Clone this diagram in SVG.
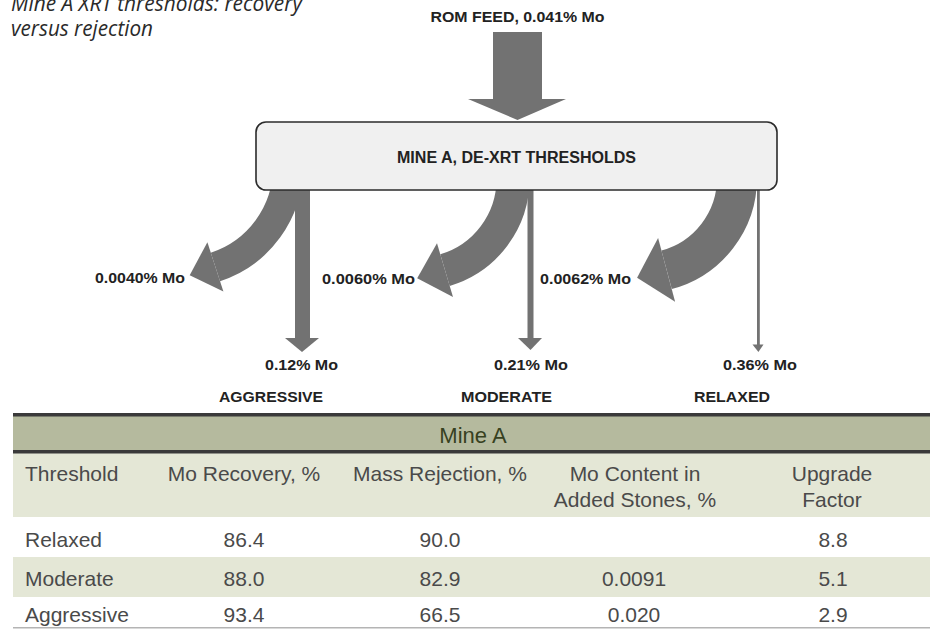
<svg xmlns="http://www.w3.org/2000/svg" width="933" height="634" viewBox="0 0 933 634">
  <defs>
    <style>
      .title { font-family: "Open Sans", "Liberation Sans", sans-serif; font-style: italic; font-size: 21px; fill: #2a2a2a; }
      .lbl { font-family: "Liberation Sans", Arial, sans-serif; font-weight: bold; font-size: 14.5px; fill: #222222; }
      .cat { font-family: "Liberation Sans", Arial, sans-serif; font-weight: bold; font-size: 15.5px; fill: #222222; }
      .arrow { fill: #727272; }
      .band { fill: none; stroke: #727272; stroke-linecap: butt; }
      .box { fill: #f0f0f0; stroke: #2b2b2b; stroke-width: 1.6; }
      .tcell { font-family: "Liberation Sans", Arial, sans-serif; font-size: 21px; fill: #4a4a4a; }
      .thead { font-family: "Liberation Sans", Arial, sans-serif; font-size: 22px; fill: #37411f; }
      .mid { text-anchor: middle; }
      .rule { fill: #3a3a3a; }
    </style>
  </defs>
  <rect width="933" height="634" fill="#ffffff"/>

  <!-- Title -->
  <g id="title">
    <text class="title" x="11" y="11" textLength="291" lengthAdjust="spacingAndGlyphs">Mine A XRT thresholds: recovery</text>
    <text class="title" x="11" y="36" textLength="142" lengthAdjust="spacingAndGlyphs">versus rejection</text>
  </g>

  <!-- Connectors -->
  <g id="connectors">
    <!-- ROM feed arrow -->
    <g id="feed-arrow">
      <rect class="arrow" x="493" y="32" width="49" height="68"/>
      <polygon class="arrow" points="468,99 566,99 517.5,120"/>
    </g>
    <!-- Aggressive rejection (curved) -->
    <g id="reject-aggressive">
      <path class="band" stroke-width="30" d="M 288 167 A 105 105 0 0 1 215.4 266.9"/>
      <polygon class="arrow" points="207.4,242.2 223.4,291.6 189.7,275.2"/>
    </g>
    <!-- Aggressive product (vertical) -->
    <g id="product-aggressive">
      <rect class="arrow" x="295" y="180" width="15" height="159"/>
      <polygon class="arrow" points="285,338 319,338 302,352"/>
    </g>
    <!-- Moderate rejection (curved) -->
    <g id="reject-moderate">
      <path class="band" stroke-width="33" d="M 513 179 A 95 95 0 0 1 445 270.1"/>
      <polygon class="arrow" points="437,243.2 453,297 417.2,278.3"/>
    </g>
    <!-- Moderate product (vertical) -->
    <g id="product-moderate">
      <rect class="arrow" x="527.5" y="180" width="6" height="159"/>
      <polygon class="arrow" points="518,338 542,338 530.5,350"/>
    </g>
    <!-- Relaxed rejection (curved) -->
    <g id="reject-relaxed">
      <path class="band" stroke-width="40" d="M 737 178 A 95 95 0 0 1 666.6 269.8"/>
      <polygon class="arrow" points="658.1,237.9 675.1,301.7 637.1,277.7"/>
    </g>
    <!-- Relaxed product (vertical) -->
    <g id="product-relaxed">
      <rect class="arrow" x="757" y="180" width="2.8" height="166"/>
      <polygon class="arrow" points="752.5,344.5 763.5,344.5 758.4,352"/>
    </g>
  </g>

  <!-- Nodes -->
  <g id="feed-label">
    <text class="lbl mid" x="517.5" y="22" style="font-size:15px" textLength="174" lengthAdjust="spacingAndGlyphs">ROM FEED, 0.041% Mo</text>
  </g>

  <g id="node-thresholds">
    <rect class="box" x="256" y="122" width="521" height="68" rx="10" ry="10"/>
    <text class="lbl mid" x="516.5" y="163" style="font-size:16px" textLength="239" lengthAdjust="spacingAndGlyphs">MINE A, DE-XRT THRESHOLDS</text>
  </g>

  <g id="out-aggressive">
    <text class="lbl" x="95" y="283" textLength="90" lengthAdjust="spacingAndGlyphs">0.0040% Mo</text>
    <text class="lbl" x="265" y="370" textLength="73" lengthAdjust="spacingAndGlyphs">0.12% Mo</text>
    <text class="cat" x="219" y="402" textLength="104" lengthAdjust="spacingAndGlyphs">AGGRESSIVE</text>
  </g>

  <g id="out-moderate">
    <text class="lbl" x="322" y="284" textLength="93" lengthAdjust="spacingAndGlyphs">0.0060% Mo</text>
    <text class="lbl" x="494" y="370" textLength="74" lengthAdjust="spacingAndGlyphs">0.21% Mo</text>
    <text class="cat" x="461" y="402" textLength="91" lengthAdjust="spacingAndGlyphs">MODERATE</text>
  </g>

  <g id="out-relaxed">
    <text class="lbl" x="540" y="284" textLength="91" lengthAdjust="spacingAndGlyphs">0.0062% Mo</text>
    <text class="lbl" x="723" y="370" textLength="74" lengthAdjust="spacingAndGlyphs">0.36% Mo</text>
    <text class="cat" x="694" y="402" textLength="76" lengthAdjust="spacingAndGlyphs">RELAXED</text>
  </g>

  <!-- Table -->
  <g id="table">
    <rect x="13" y="416" width="917" height="35" fill="#b5ba9e"/>
    <rect x="13" y="453" width="917" height="64" fill="#e4e7d6"/>
    <rect x="13" y="557" width="917" height="40" fill="#e4e7d6"/>
    <rect class="rule" x="13" y="413" width="917" height="3.5"/>
    <rect class="rule" x="13" y="450" width="917" height="3.5"/>
    <rect x="13" y="627" width="917" height="1.5" fill="#b4b4b4"/>

    <text class="thead mid" x="473" y="443">Mine A</text>

    <text class="tcell" x="25" y="481">Threshold</text>
    <text class="tcell mid" x="244" y="481">Mo Recovery, %</text>
    <text class="tcell mid" x="440" y="481">Mass Rejection, %</text>
    <text class="tcell mid" x="635" y="481">Mo Content in</text>
    <text class="tcell mid" x="635" y="507">Added Stones, %</text>
    <text class="tcell mid" x="832" y="481">Upgrade</text>
    <text class="tcell mid" x="832" y="507">Factor</text>

    <text class="tcell" x="25" y="547">Relaxed</text>
    <text class="tcell mid" x="244" y="547">86.4</text>
    <text class="tcell mid" x="440" y="547">90.0</text>
    <text class="tcell mid" x="833" y="547">8.8</text>

    <text class="tcell" x="25" y="586">Moderate</text>
    <text class="tcell mid" x="244" y="586">88.0</text>
    <text class="tcell mid" x="440" y="586">82.9</text>
    <text class="tcell mid" x="634" y="586">0.0091</text>
    <text class="tcell mid" x="833" y="586">5.1</text>

    <text class="tcell" x="25" y="622">Aggressive</text>
    <text class="tcell mid" x="244" y="622">93.4</text>
    <text class="tcell mid" x="440" y="622">66.5</text>
    <text class="tcell mid" x="634" y="622">0.020</text>
    <text class="tcell mid" x="833" y="622">2.9</text>
  </g>
</svg>
